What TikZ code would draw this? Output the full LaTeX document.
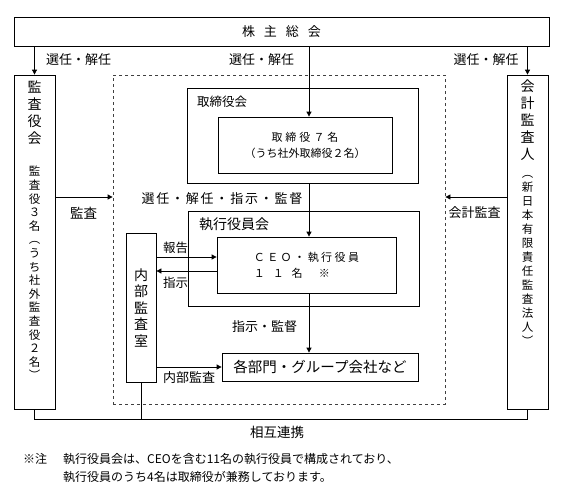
\documentclass[tikz,border=0pt]{standalone}
\usepackage{fontspec}
\setmainfont{Noto Sans CJK JP}
\usetikzlibrary{arrows.meta}

\newcommand{\fs}[2]{\fontsize{#1}{#2}\selectfont}
% spread the characters of a word apart
\makeatletter
\newcommand{\spaced}[2]{\def\spaced@gap{\hspace{#1}}\spaced@first#2\@nil}
\def\spaced@first#1{#1\spaced@rest}
\def\spaced@rest#1{\ifx#1\@nil\else\spaced@gap#1\expandafter\spaced@rest\fi}
\makeatother

\tikzset{
  box/.style={draw, line width=0.8pt, inner sep=0pt},
  arr/.style={-{Triangle[length=5pt,width=5pt]}, line width=0.8pt},
  ln/.style={line width=0.8pt},
  lbl/.style={inner sep=0pt, font=\fs{13}{15}},
  vtext/.style={inner sep=0pt, align=center},
}

\begin{document}
\begin{tikzpicture}[x=1pt,y=-1pt]
\useasboundingbox (0,0) rectangle (562,485);

% shareholders
\node[box, minimum width=535pt, minimum height=29pt, font=\fs{13}{15}] (kabu) at (281.5,31.5) {\spaced{9pt}{株主総会}};

% side boxes
\node[box, minimum width=41pt, minimum height=334pt] (kansa) at (34.5,242) {};
\node[vtext, font=\fs{14}{17}] at (34.5,112.5) {監\\査\\役\\会};
\node[vtext, font=\fs{11.5}{13.6}] at (34.5,273) {監\\査\\役\\３\\名\\︵\\う\\ち\\社\\外\\監\\査\\役\\２\\名\\︶};

\node[box, minimum width=41pt, minimum height=334pt] (kaikei) at (527.5,242) {};
\node[vtext, font=\fs{14}{17}] at (527.5,120) {会\\計\\監\\査\\人};
\node[vtext, font=\fs{11.5}{14}] at (527.5,260) {︵\\新\\日\\本\\有\\限\\責\\任\\監\\査\\法\\人\\︶};

% company
\node[draw=black!75, dashed, line width=0.8pt, inner sep=0pt, minimum width=332pt, minimum height=329pt] (org) at (279,239.5) {};

\node[box, minimum width=231pt, minimum height=95pt] (tori) at (302.5,135.5) {};
\node[lbl, anchor=west, font=\fs{12.5}{15}] at (197,102) {取締役会};
\node[box, minimum width=174pt, minimum height=56pt, align=center, font=\fs{11}{16}] (torim) at (305,145) {\spaced{3pt}{取締役７名}\\（うち社外取締役２名）};

\node[box, minimum width=231pt, minimum height=95pt] (shikko) at (303.5,258.5) {};
\node[lbl, anchor=west, font=\fs{14}{16}] at (199,224) {執行役員会};
\node[box, minimum width=179pt, minimum height=56pt, align=left, font=\fs{11}{16}] (ceo) at (306.5,265) {\spaced{2.5pt}{ＣＥＯ・執行役員}\\１\hspace{8pt}１\hspace{8pt}名\hspace{16pt}※};

\node[box, vtext, minimum width=30pt, minimum height=149pt, font=\fs{14}{16.5}] (naibu) at (141,307.5) {内\\部\\監\\査\\室};
\node[box, minimum width=196pt, minimum height=28pt, font=\fs{14.5}{16}] (bumon) at (320,367) {各部門・グループ会社など};

% connectors
\coordinate (axis) at (309,0);
\coordinate (renkei) at (0,419);
\coordinate (ka) at ([yshift=45pt]kansa.east);
\coordinate (kk) at ([yshift=45pt]kaikei.west);
\coordinate (hk) at ([yshift=8pt]ceo.west);
\coordinate (sj) at ([yshift=-6pt]ceo.west);

\draw[arr] (kansa.north |- kabu.south) -- (kansa.north);
\draw[arr] (kaikei.north |- kabu.south) -- (kaikei.north);
\draw[arr] (axis |- kabu.south) -- (axis |- torim.north);
\draw[arr] (axis |- tori.south) -- (axis |- ceo.north);
\draw[arr] (axis |- ceo.south) -- (axis |- bumon.north);
\draw[arr] (ka) -- (ka -| org.west);
\draw[arr] (kk) -- (kk -| org.east);
\draw[arr] (hk -| naibu.east) -- (hk);
\draw[arr] (sj) -- (sj -| naibu.east);
\draw[arr] (bumon.west -| naibu.east) -- (bumon.west);
\draw[ln] (kansa.south) -- (kansa.south |- renkei) -- (kaikei.south |- renkei) -- (kaikei.south);
\draw[ln] (naibu.south) -- (naibu.south |- renkei);

% labels
\node[lbl] at (78.5,60) {選任・解任};
\node[lbl] at (261.5,60) {選任・解任};
\node[lbl] at (486,60) {選任・解任};
\node[lbl] at (222,199) {\spaced{1.8pt}{選任・解任・指示・監督}};
\node[lbl, font=\fs{13.5}{15}] at (83.5,213) {監査};
\node[lbl] at (474.5,213) {会計監査};
\node[lbl, font=\fs{12.5}{15}] at (175.5,248) {報告};
\node[lbl, font=\fs{12.5}{15}] at (175.5,283) {指示};
\node[lbl] at (189,378) {内部監査};
\node[lbl] at (264.5,327) {指示・監督};
\node[lbl, font=\fs{13.5}{15}] at (277,432) {相互連携};

% note
\node[lbl, anchor=west, font=\fs{12}{18}] at (23,459) {※注};
\node[lbl, anchor=west, align=left, font=\fs{12}{18}] at (63,468) {執行役員会は、CEOを含む11名の執行役員で構成されており、\\執行役員のうち4名は取締役が兼務しております。};
\end{tikzpicture}
\end{document}
